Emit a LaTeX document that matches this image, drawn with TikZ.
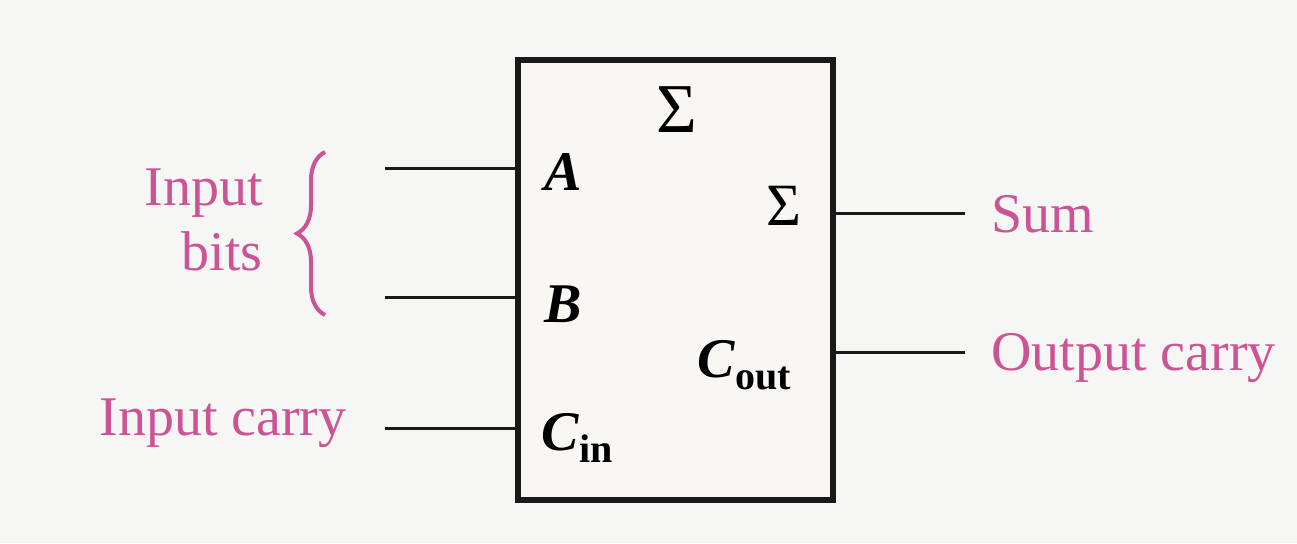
\documentclass[tikz,border=0pt]{standalone}
\usepackage{fontspec}
\setmainfont{Liberation Serif}
\usetikzlibrary{decorations.pathreplacing}
\definecolor{labpink}{RGB}{204,84,148}
\definecolor{bgcol}{RGB}{246,246,244}
\definecolor{boxfill}{RGB}{248,247,243}
\tikzset{
  lab/.style={text=labpink, inner sep=0pt, anchor=base west, font=\fontsize{28}{32}\selectfont},
  pinlab/.style={text=black, inner sep=0pt, anchor=base west, font=\fontsize{28}{32}\selectfont\bfseries},
  wire/.style={line width=1.5pt, draw=black!90},
  blockbox/.style={draw=black!90, fill=boxfill, line width=2.8pt, minimum width=157.5pt, minimum height=220pt, inner sep=0pt},
}
\newcommand{\subtxt}[1]{\raisebox{-6pt}{\fontsize{20}{20}\selectfont\bfseries #1}}
\begin{document}
\begin{tikzpicture}[x=0.5pt,y=-0.5pt]
\useasboundingbox (0,0) rectangle (1297,543);
\fill[bgcol] (0,0) rectangle (1297,543);
% block
\node[blockbox] (box) at (675.5,280) {};
% inside labels
\node[pinlab, font=\fontsize{35}{40}\selectfont] (sigtop) at (656,132) {Σ};
\node[pinlab] (pa) at (544,190) {\textit{A}};
\node[pinlab] (pb) at (544,322) {\textit{B}};
\node[pinlab] (pcin) at (541,450) {\textit{C}\subtxt{in}};
\node[pinlab, font=\fontsize{30}{34}\selectfont] (sigout) at (766,225) {Σ};
\node[pinlab] (pcout) at (697,377) {\textit{C}\subtxt{out}};
% wire ends
\coordinate (ina) at (385,168);
\coordinate (inb) at (385,297);
\coordinate (inc) at (385,428);
\coordinate (outs) at (965,213);
\coordinate (outc) at (965,352);
\draw[wire] (ina) -- (box.west |- ina);
\draw[wire] (inb) -- (box.west |- inb);
\draw[wire] (inc) -- (box.west |- inc);
\draw[wire] (box.east |- outs) -- (outs);
\draw[wire] (box.east |- outc) -- (outc);
% outer labels
\node[lab, anchor=base east] (lin1) at (263,205) {Input};
\node[lab, anchor=base east] (lin2) at (263,270) {bits};
\node[lab] (lcarry) at (99,435) {Input carry};
\node[lab] (lsum) at (991,232) {Sum};
\node[lab] (lcout) at (991,370) {Output carry};
% brace
\coordinate (brb) at (325,315);
\coordinate (brt) at (325,152);
\draw[labpink, line width=2pt, decorate, decoration={brace, amplitude=14pt}] (brb) -- (brt);
\end{tikzpicture}
\end{document}
